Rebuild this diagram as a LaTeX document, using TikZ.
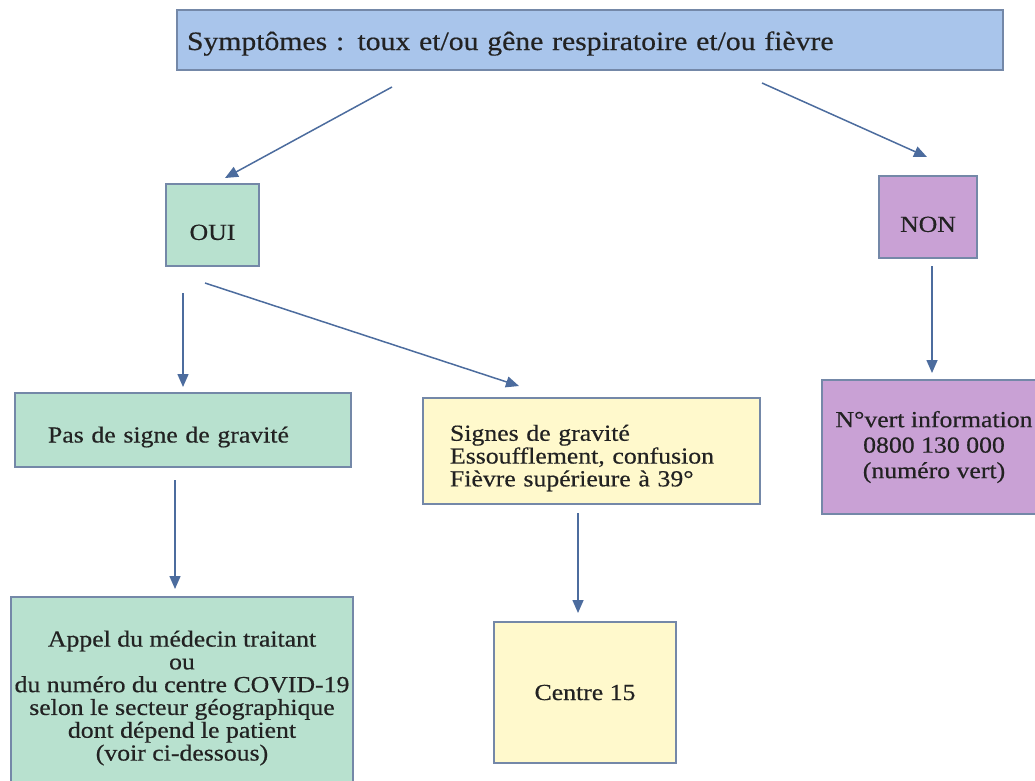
\documentclass[tikz,border=0pt]{standalone}
\usepackage{fontspec}
\setmainfont[FakeStretch=1.12,FakeBold=0.5]{Liberation Serif}
\usetikzlibrary{arrows.meta}
\definecolor{bluefill}{HTML}{A9C5EB}
\definecolor{greenfill}{HTML}{B8E1CF}
\definecolor{purplefill}{HTML}{C9A1D5}
\definecolor{yellowfill}{HTML}{FFF9CC}
\definecolor{edgecol}{HTML}{7488A8}
\definecolor{arrowcol}{HTML}{4C6C9E}
\definecolor{txt}{HTML}{222222}
\newcommand{\lowr}{\rule{0pt}{30pt}}
\tikzset{
  box/.style={draw=edgecol, line width=1.4pt, text=txt, inner sep=0pt, font=\fontsize{23}{22.8}\selectfont},
  flow/.style={draw=arrowcol, line width=1.5pt, -{Triangle[length=13pt,width=11pt]}}
}
\begin{document}
\begin{tikzpicture}[x=1pt,y=-1pt]
\useasboundingbox (0,0) rectangle (1035,780);
\clip (0,0) rectangle (1035,780);
% boxes
\node[box, fill=bluefill, minimum width=826pt, minimum height=60pt, text width=806pt, align=left,
      text height=20pt, text depth=0pt, font=\fontsize{26.5}{27}\selectfont] (top) at (590,40)
  {Symptômes : toux et/ou gêne respiratoire et/ou fièvre};
\node[box, fill=greenfill, minimum width=93pt, minimum height=82pt] (oui) at (212.5,225) {\lowr OUI};
\node[box, fill=purplefill, minimum width=98pt, minimum height=82pt] (non) at (928,217) {\lowr NON};
\node[box, fill=purplefill, minimum width=224pt, minimum height=134pt, align=center,
      font=\fontsize{23}{25.5}\selectfont] (vert) at (934,447)
  {N°vert information\\0800 130 000\\(numéro vert)};
\node[box, fill=greenfill, minimum width=336pt, minimum height=74pt, text width=270pt, align=left] (pas) at (183,430)
  {\lowr Pas de signe de gravité};
\node[box, fill=yellowfill, minimum width=337pt, minimum height=106pt, text width=283pt, align=left] (signes) at (591.5,451)
  {\lowr Signes de gravité\\Essoufflement, confusion\\Fièvre supérieure à 39°};
\node[box, fill=greenfill, minimum width=342pt, minimum height=188pt, align=center] (appel) at (182,691)
  {\lowr Appel du médecin traitant\\ou\\du numéro du centre COVID-19\\selon le secteur géographique\\dont dépend le patient\\(voir ci-dessous)};
\node[box, fill=yellowfill, minimum width=182pt, minimum height=141pt] (c15) at (585,692.5) {Centre 15};
% arrow end points
\coordinate (a1s) at (392,87);  \coordinate (a1e) at (225,178);
\coordinate (a2s) at (762,83);  \coordinate (a2e) at (927,157);
\coordinate (a3s) at (183,293); \coordinate (a3e) at (183,387);
\coordinate (a4s) at (205,283); \coordinate (a4e) at (519,386);
\coordinate (a5s) at (932,266); \coordinate (a5e) at (932,373);
\coordinate (a6s) at (175,480); \coordinate (a6e) at (175,589);
\coordinate (a7s) at (578,513); \coordinate (a7e) at (578,613);
\draw[flow] (a1s) -- (a1e);
\draw[flow] (a2s) -- (a2e);
\draw[flow] (a3s) -- (a3e);
\draw[flow] (a4s) -- (a4e);
\draw[flow] (a5s) -- (a5e);
\draw[flow] (a6s) -- (a6e);
\draw[flow] (a7s) -- (a7e);
\end{tikzpicture}
\end{document}
